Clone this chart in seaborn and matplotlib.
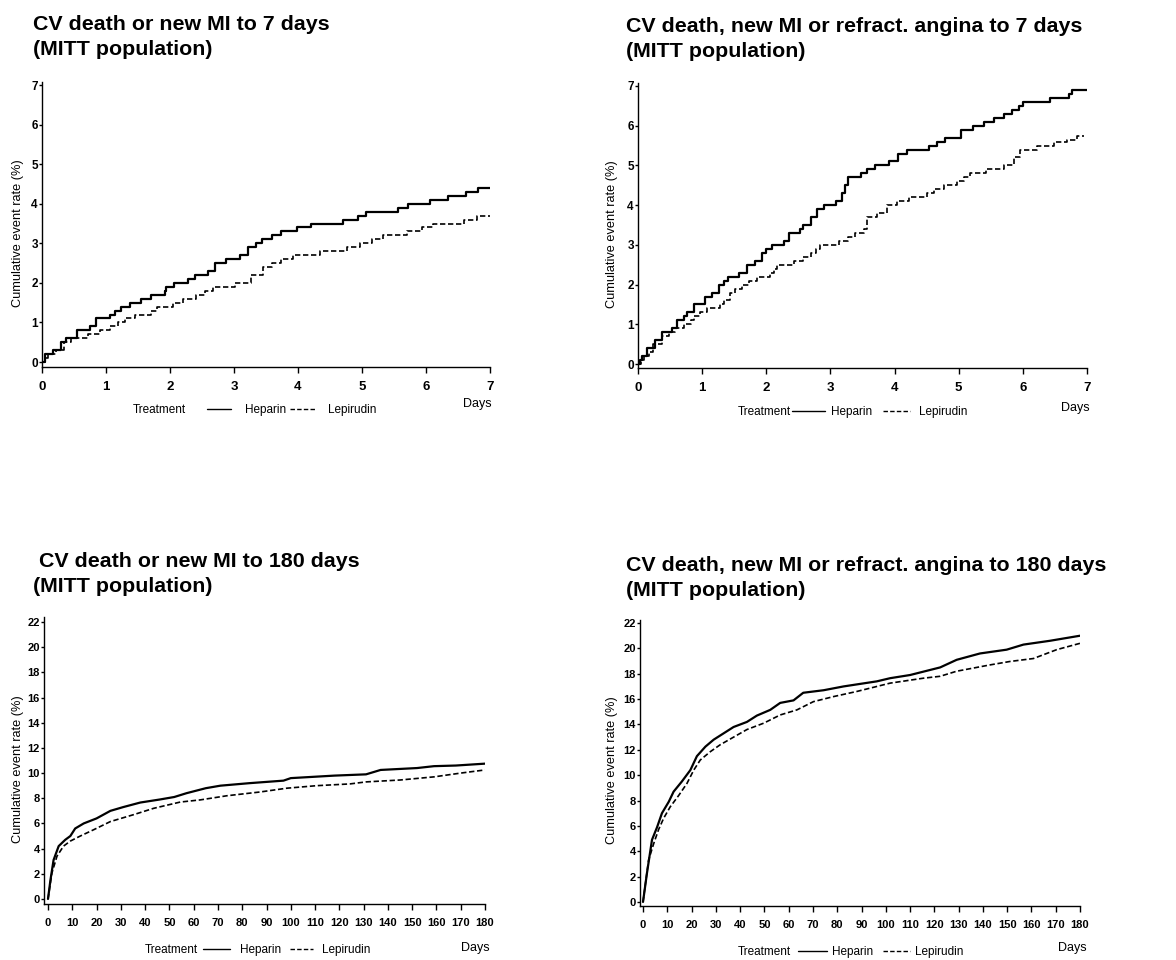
import matplotlib
matplotlib.use("Agg")
import matplotlib.pyplot as plt
from matplotlib.lines import Line2D
import seaborn as sns

# ---------------- data ----------------
# Panel A: CV death or new MI to 7 days
a_hep_x = [0, 0.04, 0.17, 0.30, 0.38, 0.54, 0.75, 0.85, 1.06, 1.14, 1.24, 1.37, 1.55, 1.71, 1.92, 1.94, 2.07, 2.28, 2.39, 2.60,
           2.70, 2.88, 3.09, 3.22, 3.35, 3.43, 3.59, 3.74, 3.98, 4.21, 4.71, 4.94, 5.07, 5.57, 5.72, 6.06, 6.35, 6.63, 6.82, 7.0]
a_hep_y = [0, 0.2, 0.3, 0.5, 0.6, 0.8, 0.9, 1.1, 1.2, 1.3, 1.4, 1.5, 1.6, 1.7, 1.8, 1.9, 2.0, 2.1, 2.2, 2.3,
           2.5, 2.6, 2.7, 2.9, 3.0, 3.1, 3.2, 3.3, 3.4, 3.5, 3.6, 3.7, 3.8, 3.9, 4.0, 4.1, 4.2, 4.3, 4.4, 4.4]
a_lep_x = [0, 0.04, 0.10, 0.22, 0.35, 0.46, 0.72, 0.90, 1.06, 1.19, 1.29, 1.45, 1.71, 1.79, 2.05, 2.20, 2.41, 2.54, 2.67, 3.01,
           3.27, 3.45, 3.59, 3.74, 3.92, 4.34, 4.76, 4.97, 5.15, 5.33, 5.70, 5.93, 6.11, 6.60, 6.79, 7.0]
a_lep_y = [0, 0.1, 0.2, 0.3, 0.5, 0.6, 0.7, 0.8, 0.9, 1.0, 1.1, 1.2, 1.3, 1.4, 1.5, 1.6, 1.7, 1.8, 1.9, 2.0,
           2.2, 2.4, 2.5, 2.6, 2.7, 2.8, 2.9, 3.0, 3.1, 3.2, 3.3, 3.4, 3.5, 3.6, 3.7, 3.7]

# Panel B: CV death, new MI or refract. angina to 7 days
b_hep_x = [0, 0.03, 0.06, 0.14, 0.27, 0.37, 0.53, 0.61, 0.71, 0.76, 0.87, 1.05, 1.15, 1.26, 1.34, 1.41, 1.57, 1.70, 1.83, 1.93,
           1.99, 2.09, 2.27, 2.36, 2.53, 2.58, 2.69, 2.79, 2.90, 3.08, 3.18, 3.23, 3.28, 3.47, 3.57, 3.70, 3.91, 4.06, 4.19, 4.53,
           4.66, 4.79, 5.03, 5.23, 5.39, 5.55, 5.70, 5.83, 5.94, 6.01, 6.43, 6.72, 6.77, 7.0]
b_hep_y = [0, 0.1, 0.2, 0.4, 0.6, 0.8, 0.9, 1.1, 1.2, 1.3, 1.5, 1.7, 1.8, 2.0, 2.1, 2.2, 2.3, 2.5, 2.6, 2.8,
           2.9, 3.0, 3.1, 3.3, 3.4, 3.5, 3.7, 3.9, 4.0, 4.1, 4.3, 4.5, 4.7, 4.8, 4.9, 5.0, 5.1, 5.3, 5.4, 5.5,
           5.6, 5.7, 5.9, 6.0, 6.1, 6.2, 6.3, 6.4, 6.5, 6.6, 6.7, 6.8, 6.9, 6.9]
b_lep_x = [0, 0.04, 0.09, 0.17, 0.24, 0.37, 0.48, 0.58, 0.71, 0.82, 0.87, 0.97, 1.08, 1.28, 1.34, 1.44, 1.52, 1.62, 1.73, 1.86,
           2.06, 2.12, 2.17, 2.43, 2.58, 2.69, 2.77, 2.84, 3.13, 3.28, 3.39, 3.52, 3.57, 3.73, 3.88, 4.04, 4.22, 4.51, 4.61, 4.77,
           4.97, 5.08, 5.18, 5.42, 5.70, 5.86, 5.96, 6.22, 6.48, 6.69, 6.85, 6.95]
b_lep_y = [0, 0.1, 0.2, 0.3, 0.5, 0.7, 0.8, 0.9, 1.0, 1.1, 1.2, 1.3, 1.4, 1.5, 1.6, 1.8, 1.9, 2.0, 2.1, 2.2,
           2.3, 2.4, 2.5, 2.6, 2.7, 2.8, 2.9, 3.0, 3.1, 3.2, 3.3, 3.4, 3.7, 3.8, 4.0, 4.1, 4.2, 4.3, 4.4, 4.5,
           4.6, 4.7, 4.8, 4.9, 5.0, 5.2, 5.4, 5.5, 5.6, 5.65, 5.75, 5.75]

# Panel C: CV death or new MI to 180 days
c_hep_x = [0, 1, 2.3, 4.4, 7.1, 9.2, 11.2, 14.7, 20, 25.7, 31, 38, 46, 52, 57, 65, 71, 83, 97, 100, 118, 131, 137, 152, 159, 168, 180]
c_hep_y = [0, 1.5, 3.1, 4.2, 4.7, 5.0, 5.6, 6.0, 6.4, 7.0, 7.3, 7.66, 7.9, 8.1, 8.4, 8.8, 9.0, 9.2, 9.4, 9.6, 9.8, 9.9, 10.25,
           10.4, 10.55, 10.6, 10.75]
c_lep_x = [0, 1.6, 3.7, 6.4, 9.2, 13.3, 18.8, 25.7, 35.3, 43.5, 54.5, 62.7, 73.7, 87.4, 98.4, 110.7, 124.4, 131, 145, 159, 170, 180]
c_lep_y = [0, 2.06, 3.4, 4.2, 4.6, 5.0, 5.5, 6.15, 6.7, 7.2, 7.7, 7.87, 8.2, 8.5, 8.8, 9.0, 9.14, 9.3, 9.45, 9.7, 10.0, 10.25]

# Panel D: CV death, new MI or refract. angina to 180 days
d_hep_x = [0, 1.6, 3.7, 5.8, 7.8, 10.6, 12.6, 16, 19.5, 22.2, 25.7, 29.1, 33.2, 37.3, 42.8, 46.9, 52.4, 56.5, 62, 66, 74.4,
           82.6, 96.3, 101.8, 110, 122.4, 129.2, 138.8, 149.8, 156.7, 167.6, 180]
d_hep_y = [0, 2.24, 4.9, 5.9, 7.0, 7.9, 8.7, 9.5, 10.4, 11.5, 12.25, 12.8, 13.3, 13.8, 14.2, 14.7, 15.15, 15.7, 15.9, 16.5, 16.7,
           17.0, 17.4, 17.65, 17.9, 18.5, 19.1, 19.6, 19.9, 20.3, 20.6, 21.0]
d_lep_x = [0, 2.3, 4.4, 6.4, 8.5, 11.2, 14.7, 18.1, 20.9, 23.6, 27.7, 31.8, 37.3, 42.8, 49.7, 56.5, 63.4, 70.2, 78.5, 88,
           101.8, 115.5, 122.4, 129.2, 143, 151.2, 160.8, 170.4, 180]
d_lep_y = [0, 3.3, 4.6, 5.7, 6.6, 7.5, 8.4, 9.35, 10.4, 11.2, 11.85, 12.4, 13.0, 13.6, 14.1, 14.75, 15.15, 15.8, 16.2, 16.6,
           17.26, 17.65, 17.8, 18.2, 18.7, 18.97, 19.2, 19.9, 20.4]

titles = [
    "CV death or new MI to 7 days\n(MITT population)",
    "CV death, new MI or refract. angina to 7 days\n(MITT population)",
    " CV death or new MI to 180 days\n(MITT population)",
    "CV death, new MI or refract. angina to 180 days\n(MITT population)",
]
x_ticks_7 = [0, 1, 2, 3, 4, 5, 6, 7]
y_ticks_7 = [0, 1, 2, 3, 4, 5, 6, 7]
x_ticks_180 = list(range(0, 181, 10))
y_ticks_180 = list(range(0, 23, 2))
ylabel = "Cumulative event rate (%)"
treat_labels = ["Treatment", "Heparin", "Lepirudin"]

# ---------------- style ----------------
sns.set_theme(style="ticks")
plt.rcParams["font.family"] = ["Liberation Sans", "DejaVu Sans"]
plt.rcParams["axes.linewidth"] = 1.0
for k in ["text.color", "axes.labelcolor", "xtick.color", "ytick.color", "axes.edgecolor"]:
    plt.rcParams[k] = "black"

W, H = 1176, 960
fig = plt.figure(figsize=(W / 100, H / 100), dpi=100)


def fx(px):
    return px / W


def fy(py):
    return 1 - py / H


def make_axes(left, right, top, bottom):
    return fig.add_axes([fx(left), fy(bottom), (right - left) / W, (bottom - top) / H])


DASH = (0, (3.2, 1.6))

panels = [
    dict(box=(42, 490, 82, 367), xlim=(0, 7), ylim=(-0.126, 7.076), xt=x_ticks_7, yt=y_ticks_7,
         hep=(a_hep_x, a_hep_y), lep=(a_lep_x, a_lep_y), step=True, xfs=9.5, yfs=8.5,
         title_xy=(33, 30), ylab_xy=(18, 233), days_xy=(477, 404), leg_y=410, leg_x=(133, 207, 231, 242, 290, 316, 325)),
    dict(box=(638, 1087, 83, 368), xlim=(0, 7), ylim=(-0.1, 7.075), xt=x_ticks_7, yt=y_ticks_7,
         hep=(b_hep_x, b_hep_y), lep=(b_lep_x, b_lep_y), step=True, xfs=9.5, yfs=8.5,
         title_xy=(626, 32), ylab_xy=(612, 234), days_xy=(1075, 408), leg_y=412, leg_x=(738, 792, 825, 828, 883, 910, 916)),
    dict(box=(44, 485, 617, 904), xlim=(-1.65, 180), ylim=(-0.4, 22.4), xt=x_ticks_180, yt=y_ticks_180,
         hep=(c_hep_x, c_hep_y), lep=(c_lep_x, c_lep_y), step=False, xfs=8, yfs=8,
         title_xy=(33, 567), ylab_xy=(18, 769), days_xy=(475, 948), leg_y=950, leg_x=(145, 203, 230, 237, 290, 313, 319)),
    dict(box=(640, 1080, 620, 906), xlim=(-1.24, 180), ylim=(-0.32, 22.24), xt=x_ticks_180, yt=y_ticks_180,
         hep=(d_hep_x, d_hep_y), lep=(d_lep_x, d_lep_y), step=False, xfs=8, yfs=8,
         title_xy=(626, 571), ylab_xy=(612, 770), days_xy=(1072, 948), leg_y=952, leg_x=(738, 798, 827, 829, 883, 910, 912)),
]

for p, title in zip(panels, titles):
    ax = make_axes(*p["box"])
    ds = "steps-post" if p["step"] else "default"
    hx, hy = p["hep"]
    lx, ly = p["lep"]
    sns.lineplot(x=hx, y=hy, ax=ax, color="black", lw=1.6, drawstyle=ds, estimator=None, sort=False)
    sns.lineplot(x=lx, y=ly, ax=ax, color="black", lw=1.2, linestyle=DASH, drawstyle=ds, estimator=None, sort=False)
    ax.set_xlim(*p["xlim"])
    ax.set_ylim(*p["ylim"])
    ax.set_xticks(p["xt"])
    ax.set_yticks(p["yt"])
    ax.set_xticklabels([str(v) for v in p["xt"]], fontsize=p["xfs"], fontweight="bold")
    ax.set_yticklabels([str(v) for v in p["yt"]], fontsize=p["yfs"], fontweight="bold")
    ax.tick_params(axis="x", direction="out", length=4, width=1, pad=6, colors="black")
    ax.tick_params(axis="y", direction="out", length=2.5, width=1, pad=0.5, colors="black")
    sns.despine(ax=ax)
    ax.set_xlabel("")
    ax.set_ylabel("")
    ax.set_facecolor("white")

    tx, ty = p["title_xy"]
    lines = title.split("\n")
    fig.text(fx(tx), fy(ty), lines[0], fontsize=15.4, fontweight="bold", ha="left", va="baseline", color="black")
    fig.text(fx(tx), fy(ty + 25), lines[1], fontsize=15.4, fontweight="bold", ha="left", va="baseline", color="black")

    lx0, ly0 = p["ylab_xy"]
    fig.text(fx(lx0), fy(ly0), ylabel, rotation=90, fontsize=9.2, ha="center", va="center", color="black")

    dx, dy = p["days_xy"]
    fig.text(fx(dx), fy(dy), "Days", fontsize=9, ha="center", va="center", color="black")

    t0, s0, s1, h0, d0, d1, l0 = p["leg_x"]
    yy = p["leg_y"]
    fig.text(fx(t0), fy(yy), treat_labels[0], fontsize=8.5, ha="left", va="center", color="black")
    fig.add_artist(Line2D([fx(s0), fx(s1)], [fy(yy - 1), fy(yy - 1)], color="black", lw=1.0))
    fig.text(fx(h0 + 3), fy(yy), treat_labels[1], fontsize=8.5, ha="left", va="center", color="black")
    fig.add_artist(Line2D([fx(d0), fx(d1)], [fy(yy - 1), fy(yy - 1)], color="black", lw=1.0, linestyle=DASH))
    fig.text(fx(l0 + 3), fy(yy), treat_labels[2], fontsize=8.5, ha="left", va="center", color="black")

fig.savefig("out.png", dpi=100, facecolor="white")
